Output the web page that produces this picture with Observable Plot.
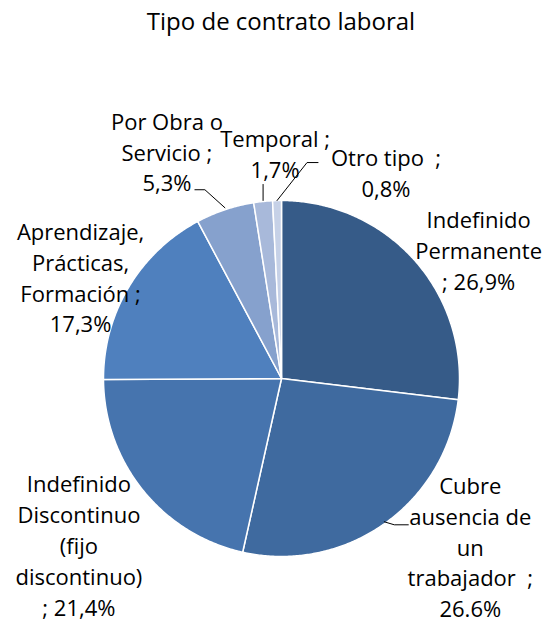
<!DOCTYPE html>
<html><head><meta charset="utf-8">
<script src="https://cdn.jsdelivr.net/npm/d3@7"></script>
<script src="https://cdn.jsdelivr.net/npm/@observablehq/plot@0.6"></script>
<style>
body{margin:0;background:#fff;font-family:"Open Sans",sans-serif}
#title{height:45px;line-height:42px;font-size:24px;text-align:center;padding-left:17px;width:528px;color:#000}
</style>
</head><body>
<div id="title">Tipo de contrato laboral</div>
<div id="chart"></div>
<script>
// ---- data ----
const categories = ["Indefinido Permanente", "Cubre ausencia de un trabajador", "Indefinido Discontinuo (fijo discontinuo)", "Aprendizaje, Prácticas, Formación", "Por Obra o Servicio", "Temporal", "Otro tipo"];
const values = [26.9, 26.6, 21.4, 17.3, 5.3, 1.7, 0.8];
const labelLines = [
  "Indefinido\nPermanente\n; 26,9%",
  "Cubre\nausencia de\nun\ntrabajador  ;\n26.6%",
  "Indefinido\nDiscontinuo\n(fijo\ndiscontinuo)\n; 21,4%",
  "Aprendizaje,\nPrácticas,\nFormación ;\n17,3%",
  "Por Obra o\nServicio ;\n5,3%",
  "Temporal ;\n1,7%",
  "Otro tipo  ;\n0,8%"
];
const colors = ["#365B88", "#3F6A9F", "#4674AE", "#4F80BE", "#86A1CD", "#A8B9DA", "#C6D1E7"];

// ---- layout (not data) ----
const R = 178;
// label block centre offsets from slice mid-angle edge point (px, y down)
const labelOffset = [[64,-11],[86,22],[-64,54],[-48,-11],[-58,-59],[12,-49],[109,-29]];
// leader line offsets from slice mid-angle edge point (px, y down)
const leaderOffsets = {1: [[0,-2],[10,1],[24,1]], 4: [[0,-2],[-20,-20],[-30,-20]], 5: [[0,-1],[0,-17]], 6: [[0,0],[30,-38],[41,-38]]};

const total = d3.sum(values);
let acc = 0;
const slices = values.map((v, i) => {
  const a0 = acc / total * 2 * Math.PI;
  acc += v;
  const a1 = acc / total * 2 * Math.PI;
  return {i, name: categories[i], a0, a1, mid: (a0 + a1) / 2};
});

const piePts = [];
for (const s of slices) {
  const n = Math.max(2, Math.ceil((s.a1 - s.a0) / (Math.PI / 360)));
  piePts.push({name: s.name, color: colors[s.i], x: 0, y: 0});
  for (let k = 0; k <= n; k++) {
    const t = s.a0 + (s.a1 - s.a0) * k / n;
    piePts.push({name: s.name, color: colors[s.i], x: R * Math.sin(t), y: R * Math.cos(t)});
  }
  piePts.push({name: s.name, color: colors[s.i], x: 0, y: 0});
}

const labels = slices.map(s => {
  const ex = R * Math.sin(s.mid), ey = R * Math.cos(s.mid);
  return {text: labelLines[s.i], x: ex + labelOffset[s.i][0], y: ey - labelOffset[s.i][1]};
});

const leaderPts = [];
for (const s of slices) {
  const offs = leaderOffsets[s.i];
  if (!offs) continue;
  const ex = R * Math.sin(s.mid), ey = R * Math.cos(s.mid);
  for (const [dx, dy] of offs) leaderPts.push({id: s.i, x: ex + dx, y: ey - dy});
}

const chart = Plot.plot({
  width: 545,
  height: 578,
  margin: 0,
  x: {type: "linear", domain: [-281, 264], axis: null},
  y: {type: "linear", domain: [-245, 333], axis: null},
  color: {type: "identity"},
  style: {background: "#fff"},
  marks: [
    Plot.line(piePts, {x: "x", y: "y", z: "name", fill: "color", stroke: "#fff", strokeWidth: 1.5, strokeLinejoin: "round", curve: "linear"}),
    Plot.line(leaderPts, {x: "x", y: "y", z: "id", stroke: "#000", strokeWidth: 1}),
    Plot.text(labels, {x: "x", y: "y", text: "text", fontFamily: "Open Sans", fontSize: 22, lineHeight: 1.4, lineAnchor: "middle", textAnchor: "middle", fill: "#000"})
  ]
});
document.getElementById("chart").appendChild(chart);
</script>
</body></html>
